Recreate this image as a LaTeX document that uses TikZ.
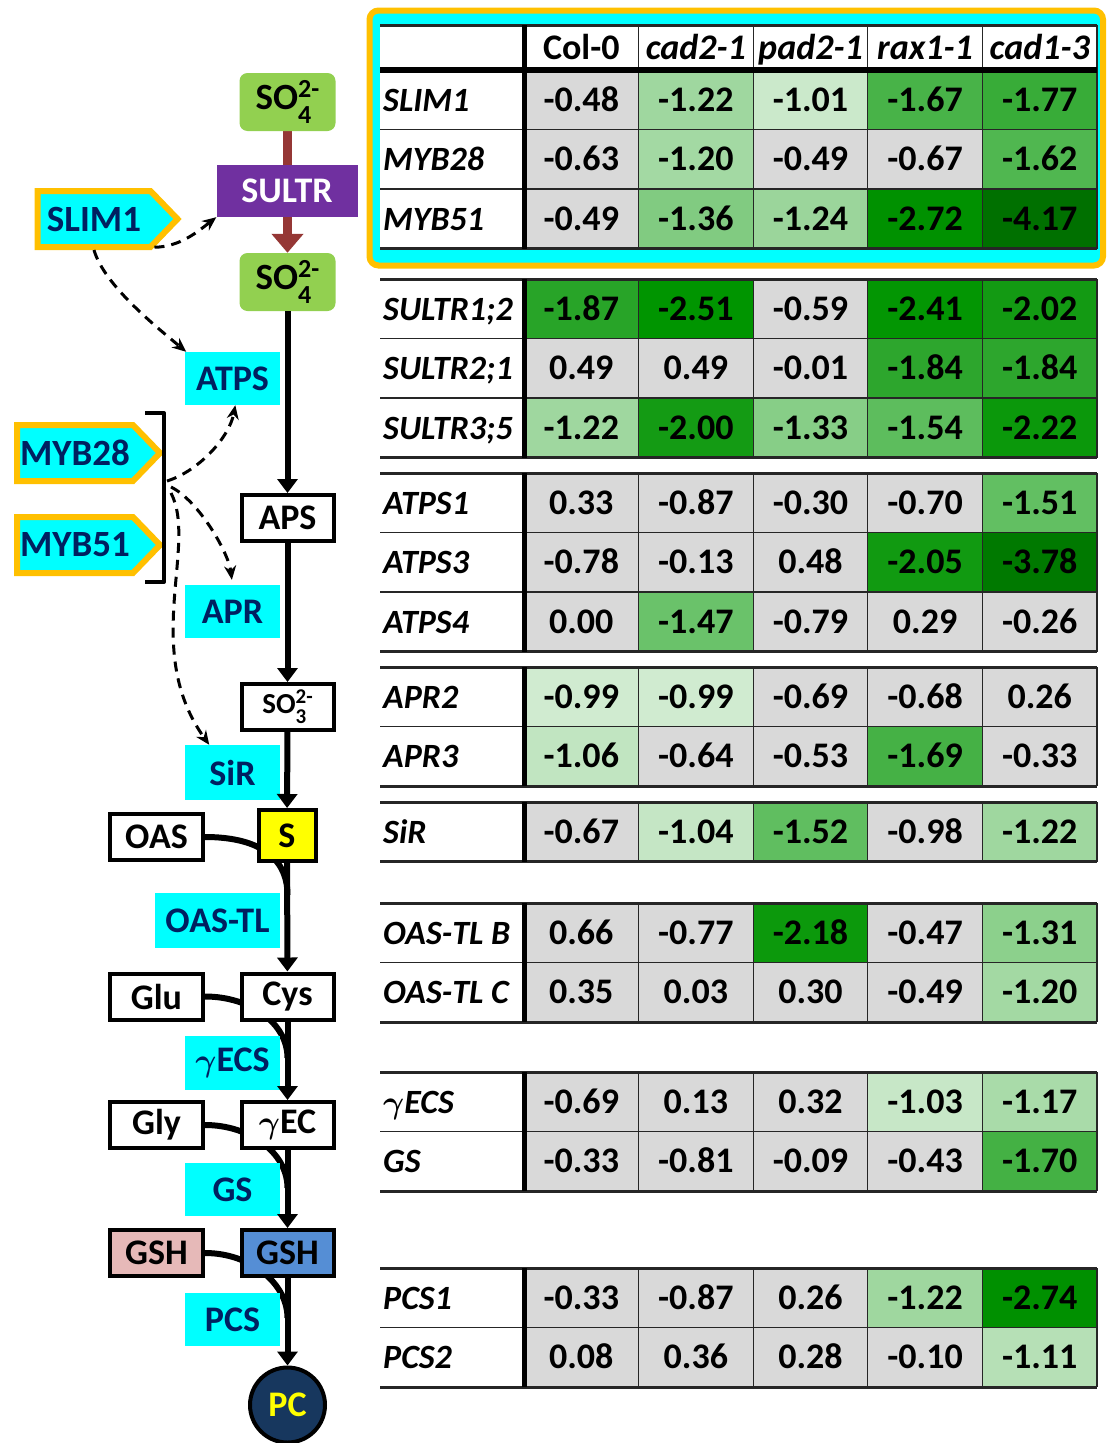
\documentclass[tikz,border=0pt]{standalone}
\usepackage{fontspec}
\usepackage{graphicx}
\usepackage{bm}
\setmainfont{Carlito}
\usetikzlibrary{arrows.meta,shapes.symbols,calc}

\definecolor{navy}{HTML}{002060}
\definecolor{cyanfill}{HTML}{00FFFF}
\definecolor{tagorange}{HTML}{FFC000}
\definecolor{leafgreen}{HTML}{92D050}
\definecolor{sultrpurple}{HTML}{7030A0}
\definecolor{transbrown}{HTML}{953735}
\definecolor{gshpink}{HTML}{E6B9B8}
\definecolor{gshblue}{HTML}{558ED5}
\definecolor{pcnavy}{HTML}{17375E}
\definecolor{sulfur}{HTML}{FFFF00}
\definecolor{tablegray}{HTML}{262626}

\pgfdeclarelayer{back}
\pgfsetlayers{back,main}

\newcommand\fs[1]{\fontsize{#1}{#1}\selectfont}
% sulfur oxyanion: SO with stacked subscript and 2- charge
\newcommand\ion[2]{SO\rlap{\raisebox{-0.36em}{\fs{#2}#1}}\raisebox{0.33em}{\fs{#2}2-}}
% gamma as in the enzyme names
\newcommand\gam{\scalebox{1.3}{$\bm{\gamma}$}}

% fold-change colour: grey above -0.985, then light to dark green
\newcommand\setcell[1]{%
  \pgfmathsetmacro\cellA{-1*(#1)}%
  \pgfmathtruncatemacro\cellR{\cellA<0.985 ? 217 : (\cellA<1.5 ? 208-108*(\cellA-0.99)/0.51 : (\cellA<2 ? 100-80*(\cellA-1.5)/0.5 : (\cellA<2.5 ? 20-20*(\cellA-2)/0.5 : 0)))}%
  \pgfmathtruncatemacro\cellG{\cellA<0.985 ? 217 : (\cellA<1.5 ? 235-43*(\cellA-0.99)/0.51 : (\cellA<2 ? 192-37*(\cellA-1.5)/0.5 : (\cellA<2.5 ? 155-5*(\cellA-2)/0.5 : 150-38*min(1,(\cellA-2.5)/1.7))))}%
  \definecolor{cellc}{RGB}{\cellR,\cellG,\cellR}%
}

% one table row: id, top y, gene label, five values
\newcommand\datarow[8]{%
  \node[rowlabel] (#1-l) at (383,#2+41) {#3};
  \foreach \v [count=\i] in {#4,#5,#6,#7,#8}{%
    \setcell{\v}%
    \fill[cellc] ({524+114.6*(\i-1)},#2) rectangle ++(114.6,59.6);
    \node[num] (#1-\i) at ({524+114.6*(\i-0.5)},#2+41) {\v};
  }%
}
% grid of one block of rows: top, bottom, list of inner row lines
\newcommand\blockgrid[3]{%
  \foreach \yy in {#3}{\draw[rowsep] (380,\yy) -- (1097,\yy);}
  \foreach \xx in {638.6,753.2,867.8,982.4,1097}{\draw[colsep] (\xx,#1) -- (\xx,#2);}
  \draw[grpsep] (380,#1) -- (1097,#1);
  \draw[grpsep] (380,#2) -- (1097,#2);
  \draw[thickv] (524,#1) -- (524,#2);
}

\begin{document}
\begin{tikzpicture}[x=1pt,y=-1pt,
  num/.style={font=\fs{36}\bfseries, anchor=base, inner sep=0pt},
  rowlabel/.style={font=\fs{34}\bfseries\itshape, anchor=base west, inner sep=0pt},
  colhead/.style={font=\fs{36}\bfseries, anchor=base, inner sep=0pt},
  rowsep/.style={line width=1.5pt, draw=tablegray},
  grpsep/.style={line width=3pt, draw=tablegray},
  colsep/.style={line width=1.2pt, draw=tablegray},
  thickv/.style={line width=5pt, draw=black},
  enzyme/.style={fill=cyanfill, text=navy, font=\fs{36}\bfseries, inner sep=0pt,
    minimum width=95pt, minimum height=53pt},
  metab/.style={draw=black, line width=4pt, fill=white, font=\fs{36}\bfseries,
    inner sep=0pt, minimum width=92pt, minimum height=46pt},
  leaf/.style={fill=leafgreen, rounded corners=8pt, font=\fs{37}\bfseries,
    inner sep=0pt, minimum width=96pt, minimum height=58pt},
  regtag/.style={signal, signal to=east, signal pointer angle=92, fill=cyanfill,
    draw=tagorange, line width=6pt, text=navy, font=\fs{37}\bfseries,
    inner sep=0pt, minimum height=56pt, minimum width=140pt},
  flow/.style={line width=6pt, -{Triangle[width=20pt,length=14pt]}},
  joinline/.style={line width=6pt},
  reg/.style={line width=3pt, dash pattern=on 10pt off 7pt,
    -{Stealth[length=14pt,width=12pt]}},
]
\useasboundingbox (0,0) rectangle (1106,1443);

% ---------------- expression table ----------------
\draw[line width=6pt, draw=tagorange, fill=cyanfill, rounded corners=9pt]
  (369.5,10.5) rectangle (1103,265.5);
\fill[white] (380,25) rectangle (1097,248.8);

\datarow{slim}{70}{SLIM1}{-0.48}{-1.22}{-1.01}{-1.67}{-1.77}
\datarow{myba}{129.6}{MYB28}{-0.63}{-1.20}{-0.49}{-0.67}{-1.62}
\datarow{mybb}{189.2}{MYB51}{-0.49}{-1.36}{-1.24}{-2.72}{-4.17}

\node[colhead] (h1) at (581.3,59) {Col-0};
\node[colhead] (h2) at (695.9,59) {\itshape cad2-1};
\node[colhead] (h3) at (810.5,59) {\itshape pad2-1};
\node[colhead] (h4) at (925.1,59) {\itshape rax1-1};
\node[colhead] (h5) at (1039.7,59) {\itshape cad1-3};

\blockgrid{25}{248.8}{129.6,189.2}
\draw[line width=6pt] (380,70) -- (1097,70);

\datarow{sa}{279}{SULTR1;2}{-1.87}{-2.51}{-0.59}{-2.41}{-2.02}
\datarow{sb}{338.6}{SULTR2;1}{0.49}{0.49}{-0.01}{-1.84}{-1.84}
\datarow{sc}{398.2}{SULTR3;5}{-1.22}{-2.00}{-1.33}{-1.54}{-2.22}
\blockgrid{279}{457.8}{338.6,398.2}

\datarow{ta}{473}{ATPS1}{0.33}{-0.87}{-0.30}{-0.70}{-1.51}
\datarow{tb}{532.6}{ATPS3}{-0.78}{-0.13}{0.48}{-2.05}{-3.78}
\datarow{tc}{592.2}{ATPS4}{0.00}{-1.47}{-0.79}{0.29}{-0.26}
\blockgrid{473}{651.8}{532.6,592.2}

\datarow{ra}{667}{APR2}{-0.99}{-0.99}{-0.69}{-0.68}{0.26}
\datarow{rb}{726.6}{APR3}{-1.06}{-0.64}{-0.53}{-1.69}{-0.33}
\blockgrid{667}{786.2}{726.6}

\datarow{sir}{802}{SiR}{-0.67}{-1.04}{-1.52}{-0.98}{-1.22}
\blockgrid{802}{861.6}{}

\datarow{oa}{903}{OAS-TL B}{0.66}{-0.77}{-2.18}{-0.47}{-1.31}
\datarow{ob}{962.6}{OAS-TL C}{0.35}{0.03}{0.30}{-0.49}{-1.20}
\blockgrid{903}{1022.2}{962.6}

\datarow{ga}{1072}{\gam ECS}{-0.69}{0.13}{0.32}{-1.03}{-1.17}
\datarow{gb}{1131.6}{GS}{-0.33}{-0.81}{-0.09}{-0.43}{-1.70}
\blockgrid{1072}{1191.2}{1131.6}

\datarow{pa}{1268}{PCS1}{-0.33}{-0.87}{0.26}{-1.22}{-2.74}
\datarow{pb}{1327.6}{PCS2}{0.08}{0.36}{0.28}{-0.10}{-1.11}
\blockgrid{1268}{1387.2}{1327.6}

% ---------------- sulfur assimilation pathway ----------------
\node[leaf] (so4a) at (287.5,102) {\ion{4}{26}\hspace{4pt}};
\node[leaf] (so4b) at (287.5,282) {\ion{4}{26}\hspace{4pt}};
\node[fill=sultrpurple, text=white, font=\fs{36}\bfseries, inner sep=0pt,
  minimum width=141pt, minimum height=52pt] (sultr) at (287,191) {SULTR};

\node[enzyme] (atps) at (232.5,378.5) {ATPS};
\node[metab] (aps) at (287.5,518) {APS};
\node[enzyme] (apr) at (232.5,611.5) {APR};
\node[metab, font=\fs{29}\bfseries] (so3) at (287.5,707) {\ion{3}{21}\hspace{3pt}};
\node[enzyme, minimum height=55pt] (sir) at (232.5,772.5) {SiR};
\node[metab, fill=sulfur, minimum width=57pt, minimum height=51pt] (s) at (287,835.5) {S};
\node[metab, minimum width=93pt] (oas) at (156.5,837) {OAS};
\node[enzyme, minimum width=125pt, minimum height=55pt] (oastl) at (217.5,920.5) {OAS-TL};
\node[metab, minimum width=93pt] (glu) at (156.5,996.5) {Glu};
\node[metab] (cys) at (287.5,996.5) {Cys};
\node[enzyme, minimum height=54pt] (gecs) at (232.5,1063) {\gam ECS};
\node[metab, minimum width=93pt] (gly) at (156.5,1125) {Gly};
\node[metab] (gec) at (287.5,1125) {\gam EC};
\node[enzyme] (gs) at (232.5,1189.5) {GS};
\node[metab, fill=gshpink, minimum width=93pt] (gshp) at (156.5,1253) {GSH};
\node[metab, fill=gshblue] (gshb) at (287.5,1253) {GSH};
\node[enzyme] (pcs) at (232.5,1319.5) {PCS};
\node[circle, draw=black, line width=4pt, fill=pcnavy, text=sulfur,
  font=\fs{36}\bfseries, inner sep=0pt, minimum size=75pt] (pc) at (287.5,1405) {PC};

% co-substrates joining the main route
\coordinate (j1) at (287.5,895);
\coordinate (j2) at (287.5,1058);
\coordinate (j3) at (287.5,1188);
\coordinate (j4) at (287.5,1318);
\begin{pgfonlayer}{back}
  \draw[line width=9pt, draw=transbrown, -{Triangle[width=31pt,length=19pt]}] (so4a) -- (so4b);
  \draw[joinline] (oas.east) .. controls +(50,0) and +(0,-40) .. (j1);
  \draw[joinline] (glu.east) .. controls +(45,0) and +(0,-35) .. (j2);
  \draw[joinline] (gly.east) .. controls +(45,0) and +(0,-35) .. (j3);
  \draw[joinline] (gshp.east) .. controls +(45,0) and +(0,-35) .. (j4);
\end{pgfonlayer}

\draw[flow] (so4b) -- (aps);
\draw[flow] (aps) -- (so3);
\draw[flow] (so3) -- (s);
\draw[flow] (s) -- (cys);
\draw[flow] (cys) -- (gec);
\draw[flow] (gec) -- (gshb);
\draw[flow] (gshb) -- (pc);

% ---------------- transcriptional regulators ----------------
\node[regtag] (slim1) at (94,219) {SLIM1\hspace{4pt}};
\node[regtag, minimum width=143pt] (myb28) at (75,453) {MYB28\hspace{6pt}};
\node[regtag, minimum width=143pt] (myb51) at (75,545) {MYB51\hspace{6pt}};

\draw[line width=4pt, line join=round] (145,413) -- (164,413) -- (164,582) -- (145,582);
\coordinate (b1) at (167,481);
\coordinate (b2) at (171,487);
\coordinate (b3) at (171,493);

\draw[reg] (slim1.-25) .. controls +(25,0) and +(-18,14) .. (sultr.south west);
\draw[reg] (slim1.south) .. controls +(10,35) and +(-30,-25) .. (atps.150);
\draw[reg] (b1) .. controls +(32,-10) and +(-6,32) .. (atps.-84);
\draw[reg, shorten >=5pt] (b2) .. controls +(28,14) and +(-4,-32) .. (apr.north);
\draw[reg] (b3) .. controls +(27,52) and +(-68,-95) .. (sir.130);
\end{tikzpicture}
\end{document}
